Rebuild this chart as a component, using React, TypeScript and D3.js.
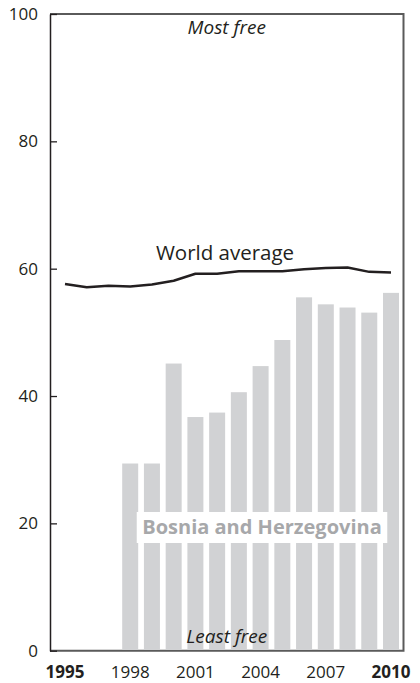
import React, { useEffect, useRef } from 'react'
import * as d3 from 'd3'

const years = [1995, 1996, 1997, 1998, 1999, 2000, 2001, 2002, 2003, 2004, 2005, 2006, 2007, 2008, 2009, 2010]
const worldAverage = [57.6, 57.1, 57.3, 57.2, 57.5, 58.1, 59.2, 59.2, 59.6, 59.6, 59.6, 59.9, 60.1, 60.2, 59.5, 59.4]
const bosniaYears = [1998, 1999, 2000, 2001, 2002, 2003, 2004, 2005, 2006, 2007, 2008, 2009, 2010]
const bosniaValues = [29.4, 29.4, 45.1, 36.7, 37.4, 40.6, 44.7, 48.8, 55.5, 54.4, 53.9, 53.1, 56.2]
const yTicks = [0, 20, 40, 60, 80, 100]
const xTicks = [1995, 1998, 2001, 2004, 2007, 2010]
const boldYears = [1995, 2010]

const W = 420
const H = 683
const FONT = '"Open Sans", sans-serif'
const INK = '#231f20'

const App: React.FC = () => {
    const svgRef = useRef<SVGSVGElement>(null)

    useEffect(() => {
        if (!svgRef.current) return
        const svg = d3.select(svgRef.current)
        svg.selectAll('*').remove()

        const left = 50, right = 403.5, top = 14, bottom = 650.7
        const y = d3.scaleLinear().domain([0, 100]).range([bottom, top])
        const x = d3.scalePoint<number>().domain(years).range([65, 391])
        const barW = 16

        // frame (top, right, bottom)
        svg.append('path')
            .attr('d', `M${left},${top}H${right}V${bottom}H${left}`)
            .attr('fill', 'none')
            .attr('stroke', '#5a5a5a')
            .attr('stroke-width', 2)

        // bars
        svg.append('g').selectAll('rect')
            .data(bosniaYears.map((yr, i) => ({ yr, v: bosniaValues[i] })))
            .enter().append('rect')
            .attr('x', d => x(d.yr)! - barW / 2)
            .attr('y', d => y(d.v))
            .attr('width', barW)
            .attr('height', d => y(0) - y(d.v) - 1)
            .attr('fill', '#d1d2d4')

        // left axis
        const yAxis = svg.append('g')
            .attr('transform', `translate(${left},0)`)
            .call(d3.axisLeft(y).tickValues(yTicks).tickSize(6).tickPadding(6).tickSizeOuter(0))
        yAxis.select('.domain').attr('stroke', INK).attr('stroke-width', 1.5)
        yAxis.selectAll('.tick line').attr('x2', 7).attr('stroke', INK).attr('stroke-width', 1.3)
        yAxis.selectAll('.tick text')
            .attr('font-family', FONT)
            .attr('font-size', 17)
            .attr('fill', INK)

        // x labels
        svg.append('g').selectAll('text')
            .data(xTicks)
            .enter().append('text')
            .attr('x', d => x(d)!)
            .attr('y', 678)
            .attr('text-anchor', 'middle')
            .attr('font-family', FONT)
            .attr('font-size', 17)
            .attr('font-weight', d => boldYears.includes(d) ? 700 : 400)
            .attr('fill', INK)
            .text(d => String(d))

        // world average line
        const line = d3.line<number>()
            .x((_, i) => x(years[i])!)
            .y(d => y(d))
        svg.append('path')
            .datum(worldAverage)
            .attr('d', line)
            .attr('fill', 'none')
            .attr('stroke', INK)
            .attr('stroke-width', 2.5)
            .attr('stroke-linejoin', 'round')

        const mid = (left + right) / 2
        svg.append('text')
            .attr('x', 225).attr('y', 260)
            .attr('text-anchor', 'middle')
            .attr('font-family', FONT).attr('font-size', 20.5)
            .attr('fill', INK)
            .text('World average')

        svg.append('text')
            .attr('x', mid).attr('y', 34)
            .attr('text-anchor', 'middle')
            .attr('font-family', FONT).attr('font-size', 19).attr('font-style', 'italic')
            .attr('fill', INK)
            .text('Most free')

        svg.append('text')
            .attr('x', mid).attr('y', 643)
            .attr('text-anchor', 'middle')
            .attr('font-family', FONT).attr('font-size', 19).attr('font-style', 'italic')
            .attr('fill', INK)
            .text('Least free')

        // Bosnia label with white box
        const boxG = svg.append('g')
        const box = boxG.append('rect').attr('fill', '#fff')
        const lbl = boxG.append('text')
            .attr('x', 262).attr('y', 534)
            .attr('text-anchor', 'middle')
            .attr('font-family', FONT).attr('font-size', 20).attr('font-weight', 700)
            .attr('fill', '#a7a8aa')
            .text('Bosnia and Herzegovina')
        const bb = (lbl.node() as SVGTextElement).getBBox()
        box.attr('x', bb.x - 5.5).attr('y', 512).attr('width', bb.width + 11).attr('height', 31)
    }, [])

    return (
        <svg ref={svgRef} width={W} height={H}
            style={{ position: 'absolute', left: 0, top: 0, display: 'block', background: '#fff' }} />
    )
}

export default App
